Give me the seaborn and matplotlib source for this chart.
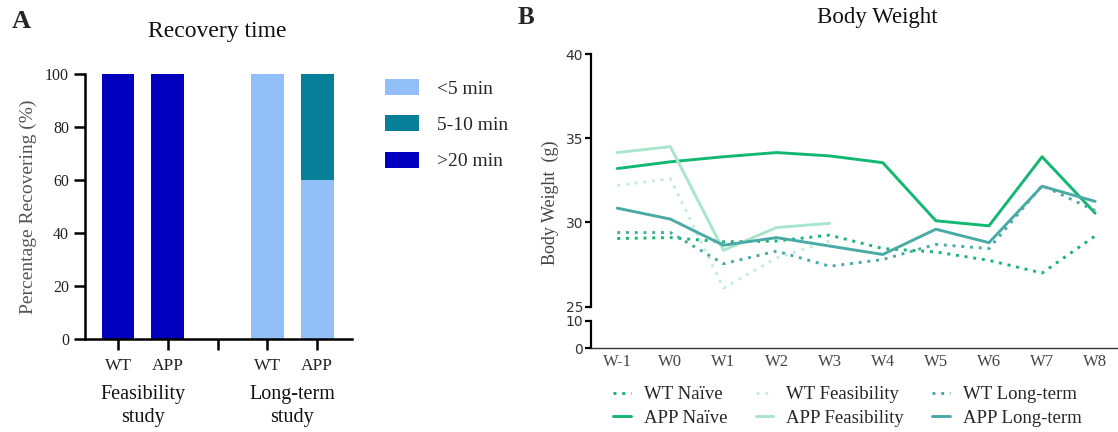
import numpy as np
import pandas as pd
import matplotlib
matplotlib.use("Agg")
import matplotlib.pyplot as plt
import seaborn as sns
from matplotlib.patches import Patch
from matplotlib.lines import Line2D
from matplotlib.transforms import blended_transform_factory

# ---------------- Panel A data ----------------
bar_order = ["Feasibility WT", "Feasibility APP", "gap", "Long-term WT", "Long-term APP"]
bar_tick_labels = ["WT", "APP", "", "WT", "APP"]
bars = ["Feasibility WT", "Feasibility APP", "Long-term WT", "Long-term APP"]
study_labels = ["Feasibility\nstudy", "Long-term\nstudy"]
recovery_bins = ["<5 min", "5-10 min", ">20 min"]
pct_lt5 = [0, 0, 100, 60]
pct_5_10 = [0, 0, 0, 40]
pct_gt20 = [100, 100, 0, 0]
bin_colors = ["#93bff8", "#077f98", "#0000be"]

# ---------------- Panel B data ----------------
weeks = ["W-1", "W0", "W1", "W2", "W3", "W4", "W5", "W6", "W7", "W8"]
wt_naive = [29.05, 29.1, 28.85, 28.9, 29.25, 28.45, 28.25, 27.75, 27.0, 29.2]
app_naive = [33.2, 33.6, 33.9, 34.15, 33.95, 33.55, 30.1, 29.8, 33.9, 30.55]
wt_feas = [32.2, 32.6, 26.1, 27.9, 28.9]
app_feas = [34.15, 34.5, 28.35, 29.7, 29.95]
wt_lt = [29.4, 29.4, 27.55, 28.3, 27.4, 27.8, 28.7, 28.45, 32.2, 30.7]
app_lt = [30.85, 30.2, 28.65, 29.1, 28.6, 28.1, 29.6, 28.8, 32.15, 31.25]

series_names = ["WT Naïve", "APP Naïve", "WT Feasibility", "APP Feasibility",
                "WT Long-term", "APP Long-term"]
series_values = [wt_naive, app_naive, wt_feas, app_feas, wt_lt, app_lt]
series_colors = ["#12b870", "#12b870", "#c4ecdc", "#a9e5cb", "#4aaaa6", "#4aaaa6"]
series_dotted = [True, False, True, False, True, False]

sns.set_theme(style="ticks")
plt.rcParams["font.family"] = ["Liberation Serif", "DejaVu Serif"]
plt.rcParams["axes.linewidth"] = 1.8

W, H = 1118, 432
fig = plt.figure(figsize=(W / 100, H / 100), dpi=100)


def fx(px):
    return px / W


def fy(py):
    return 1 - py / H


# ================= Panel A =================
axA = fig.add_axes([fx(85), fy(339), fx(352) - fx(85), fy(73.7) - fy(339)])
cum1 = np.array(pct_lt5)
cum2 = cum1 + np.array(pct_5_10)
cum3 = cum2 + np.array(pct_gt20)
layers = [(cum3, pct_gt20, bin_colors[2]), (cum2, pct_5_10, bin_colors[1]),
          (cum1, pct_lt5, bin_colors[0])]
for cum, seg, col in layers:
    df = pd.DataFrame({"bar": bars, "pct": cum, "seg": seg})
    df = df[df["seg"] > 0]
    sns.barplot(data=df, x="bar", y="pct", order=bar_order, color=col,
                width=0.66, linewidth=0, saturation=1, ax=axA, errorbar=None)
axA.set_xlim(-0.663, 4.70)
axA.set_ylim(0, 100)
axA.set_yticks([0, 20, 40, 60, 80, 100])
axA.set_xticks(range(len(bar_order)))
axA.set_xticklabels(bar_tick_labels)
axA.tick_params(axis="both", length=8, width=1.8, color="black")
axA.tick_params(axis="y", labelsize=11.5, pad=3.5, labelcolor="#222")
axA.tick_params(axis="x", labelsize=12.5, pad=6, labelcolor="#222")
for s in ["top", "right"]:
    axA.spines[s].set_visible(False)
axA.spines["left"].set_color("black")
axA.spines["bottom"].set_color("black")
axA.set_xlabel("")
axA.set_ylabel("Percentage Recovering (%)", fontsize=14, color="#555", labelpad=6)
tr = blended_transform_factory(axA.transData, fig.transFigure)
for xc, lab in zip([0.5, 3.5], study_labels):
    axA.text(xc, fy(406), lab, transform=tr, ha="center", va="center",
             fontsize=14.5, color="#111", linespacing=1.25)
fig.text(fx(217), fy(32), "Recovery time", ha="center", va="center", fontsize=17, color="#111")
fig.text(fx(12), fy(21), "A", ha="left", va="center", fontsize=19, fontweight="bold")

handles = [Patch(facecolor=c, edgecolor="none") for c in bin_colors]
fig.legend(handles, recovery_bins, loc="upper left", bbox_to_anchor=(fx(385), fy(79)),
           frameon=False, fontsize=14, handlelength=1.75, handleheight=0.9,
           handletextpad=0.9, labelspacing=0.9, borderpad=0, borderaxespad=0)

# ================= Panel B =================
left_b = fx(590.7)
width_b = 1.0 - left_b
axT = fig.add_axes([left_b, fy(306.7), width_b, fy(54) - fy(306.7)])
axB = fig.add_axes([left_b, fy(348), width_b, fy(321) - fy(348)], sharex=axT)

line_handles = []
for name, vals, col, dotted in zip(series_names, series_values, series_colors, series_dotted):
    df = pd.DataFrame({"week": np.arange(len(vals)), "weight": vals})
    ls = (0, (1, 2)) if dotted else "-"
    sns.lineplot(data=df, x="week", y="weight", ax=axT, color=col, linewidth=2.1,
                 linestyle=ls, errorbar=None)
    line_handles.append(Line2D([], [], color=col, linewidth=2.1, linestyle=ls))

axT.set_xlim(-0.5, 9.43)
axT.set_ylim(25, 40)
axT.set_yticks([25, 30, 35, 40])
axB.set_ylim(0, 10)
axB.set_yticks([0, 10])
for ax in (axT, axB):
    ax.spines["top"].set_visible(False)
    ax.spines["right"].set_visible(False)
    ax.spines["left"].set_linewidth(1.6)
    ax.spines["left"].set_color("black")
    ax.tick_params(axis="y", length=4, width=1.6, color="black", labelsize=10,
                   pad=1.5, labelcolor="#333")
    ax.set_xlabel("")
    ax.set_ylabel("")
axT.spines["bottom"].set_visible(False)
axT.tick_params(axis="x", bottom=False, labelbottom=False)
axB.spines["bottom"].set_linewidth(1.0)
axB.spines["bottom"].set_color("#333")
axB.set_xticks(range(len(weeks)))
axB.set_xticklabels(weeks)
axB.tick_params(axis="x", length=0, labelsize=12, pad=4, labelcolor="#444")
for lab in axB.get_yticklabels() + axT.get_yticklabels():
    lab.set_fontfamily("DejaVu Sans")

fig.text(fx(550), fy(203), "Body Weight  (g)", rotation=90, ha="center", va="center",
         fontsize=13, color="#444")
fig.text(fx(877), fy(18), "Body Weight", ha="center", va="center", fontsize=16.5, color="#111")
fig.text(fx(518), fy(17), "B", ha="left", va="center", fontsize=18, fontweight="bold")

fig.legend(line_handles, series_names, loc="upper left", bbox_to_anchor=(fx(613), fy(386)),
           ncol=3, frameon=False, fontsize=13.5, handlelength=0.95, handletextpad=0.7,
           columnspacing=1.5, labelspacing=0.35, borderpad=0, borderaxespad=0)

fig.savefig("out.png", dpi=100)
